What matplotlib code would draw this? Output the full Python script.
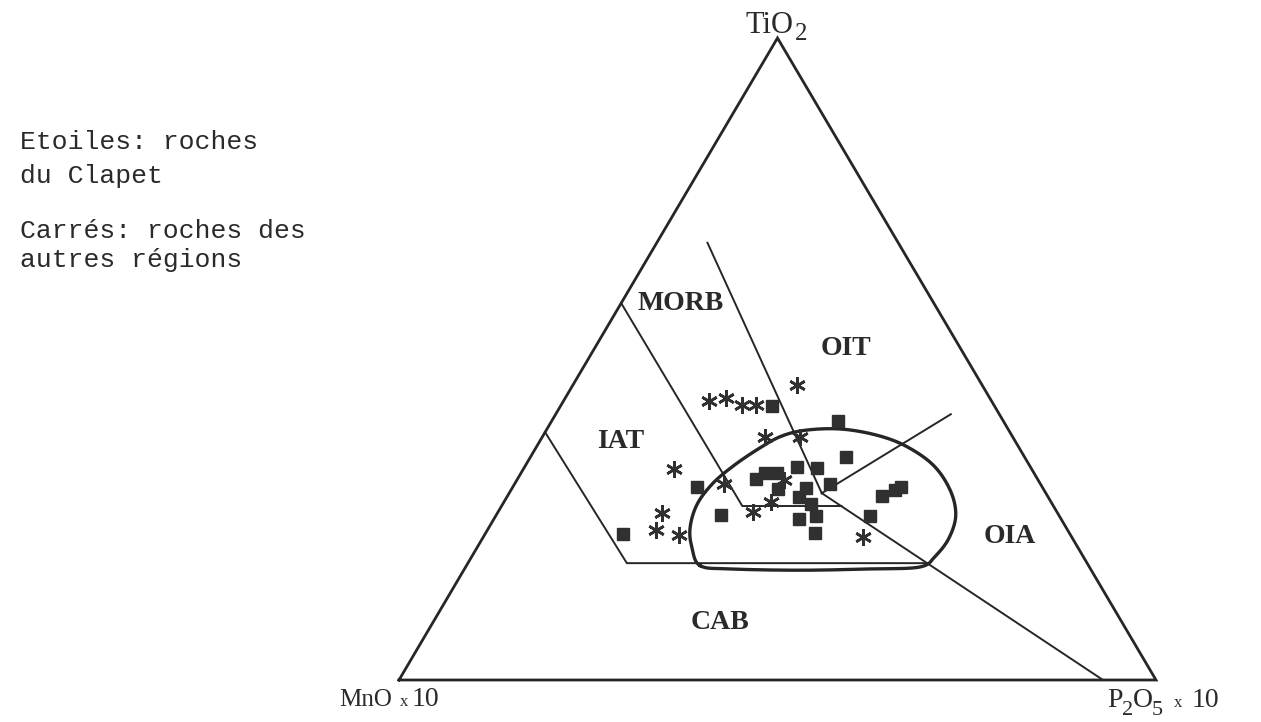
import matplotlib
matplotlib.use("Agg")
import matplotlib.pyplot as plt
import numpy as np

# compositions in % (TiO2, P2O5x10, MnOx10)
sq_tio2 = [22.7, 30.1, 25.7, 42.7, 31.3, 32.2, 32.2, 29.8, 33.2, 33.0, 29.9, 28.5,
           30.5, 34.7, 27.4, 25.5, 25.1, 22.9, 40.3, 28.7, 29.6, 30.1, 25.5]
sq_p2o5 = [18.2, 24.3, 29.7, 27.9, 31.5, 32.2, 33.8, 35.2, 36.0, 38.7, 38.8, 38.6,
           41.7, 41.7, 40.7, 42.3, 40.3, 43.5, 37.8, 49.5, 50.7, 51.3, 49.5]
sq_mno = [59.1, 45.6, 44.6, 29.4, 37.2, 35.6, 34.0, 35.0, 30.8, 28.3, 31.3, 32.9,
          27.8, 23.6, 31.9, 32.2, 34.6, 33.6, 21.9, 21.8, 19.7, 18.6, 25.0]

st_tio2 = [43.5, 43.9, 42.8, 42.8, 46.0, 37.9, 37.9, 32.9, 30.5, 26.0, 23.4, 22.6, 26.2, 27.7, 31.2, 22.3]
st_p2o5 = [19.2, 21.2, 23.9, 25.7, 29.6, 29.4, 34.0, 19.9, 27.7, 21.7, 22.3, 25.7, 33.7, 35.3, 35.2, 50.2]
st_mno = [37.3, 34.9, 33.3, 31.5, 24.4, 32.7, 28.1, 47.2, 41.8, 52.3, 54.3, 51.7, 40.1, 37.0, 33.6, 27.5]

# field boundaries (TiO2, P2O5 ; MnO = 100 - both)
morb_iat_tio2 = [58.7, 27.1, 27.1]
morb_iat_p2o5 = [0.0, 31.8, 44.9]
morb_oit_tio2 = [68.1, 29.1]
morb_oit_p2o5 = [6.7, 41.3]
oit_oia_tio2 = [29.1, 41.4]
oit_oia_p2o5 = [41.3, 52.2]
oia_cab_tio2 = [29.1, 0.0]
oia_cab_p2o5 = [41.3, 93.0]
cab_tio2 = [38.6, 18.2, 18.2]
cab_p2o5 = [0.0, 21.0, 60.7]

# hand drawn loop around the "other regions" samples
loop_tio2 = [17.8, 20.6, 23.7, 27.3, 30.5, 33.2, 35.8, 37.9, 38.9, 39.1, 38.2,
             36.5, 33.5, 29.6, 25.7, 22.1, 19.3, 17.6, 17.3, 17.1, 17.3]
loop_p2o5 = [30.9, 28.4, 26.6, 25.7, 26.1, 27.4, 29.3, 31.4, 34.2, 38.7, 43.8,
             48.6, 53.8, 58.0, 60.7, 61.6, 61.2, 60.0, 53.6, 44.4, 35.1]

fields = ["MORB", "OIT", "IAT", "OIA", "CAB"]
field_tio2 = [58.7, 51.6, 37.2, 22.3, 8.9]
field_p2o5 = [7.8, 33.2, 10.7, 69.6, 38.0]

legend_lines = ["Etoiles: roches", "du Clapet", "Carrés: roches des", "autres régions"]


def tern(tio2, p2o5, mno=None):
    t = np.asarray(tio2, float)
    p = np.asarray(p2o5, float)
    m = 100.0 - t - p if mno is None else np.asarray(mno, float)
    s = t + p + m
    return (p + t / 2.0) / s, t / s


def closed_smooth(x, y, n=20):
    # closed catmull-rom through the traced points
    pts = np.column_stack([x, y])
    N = len(pts)
    s = np.linspace(0, 1, n, endpoint=False)[:, None]
    out = []
    for i in range(N):
        p0, p1, p2, p3 = pts[(i - 1) % N], pts[i], pts[(i + 1) % N], pts[(i + 2) % N]
        out.append(0.5 * (2 * p1 + (-p0 + p2) * s + (2 * p0 - 5 * p1 + 4 * p2 - p3) * s ** 2
                          + (-p0 + 3 * p1 - 3 * p2 + p3) * s ** 3))
    out = np.vstack(out + [out[0][:1]])
    return out[:, 0], out[:, 1]


ink = "#262626"
txt = "#2a2a2a"
serif = "Liberation Serif"
W, H = 1261, 722

fig = plt.figure(figsize=(12.61, 7.22), dpi=100)
ax = fig.add_axes([399 / W, 42 / H, 757 / W, 642 / H])
ax.set_xlim(0, 1)
ax.set_ylim(0, 1)
ax.axis("off")

# triangle
tx, ty = tern([0, 0, 100, 0], [0, 100, 0, 0])
ax.plot(tx, ty, color=ink, lw=2.0, clip_on=False, solid_joinstyle="miter")

for bt, bp in [(morb_iat_tio2, morb_iat_p2o5), (morb_oit_tio2, morb_oit_p2o5),
               (oit_oia_tio2, oit_oia_p2o5), (oia_cab_tio2, oia_cab_p2o5),
               (cab_tio2, cab_p2o5)]:
    bx, by = tern(bt, bp)
    ax.plot(bx, by, color=ink, lw=1.4, clip_on=False)

lx, ly = tern(loop_tio2, loop_p2o5)
cx, cy = closed_smooth(lx, ly)
ax.plot(cx, cy, color=ink, lw=2.4)

x, y = tern(sq_tio2, sq_p2o5, sq_mno)
ax.plot(x, y, ls="none", marker="s", ms=8, color="#303030", mec="#303030")
x, y = tern(st_tio2, st_p2o5, st_mno)
ax.plot(x, y, ls="none", marker=(6, 2, 0), ms=12, mew=1.9, color="#303030")

fx, fy = tern(field_tio2, field_p2o5)
for name, xx, yy in zip(fields, fx, fy):
    ax.text(xx, yy, name, ha="center", va="center", fontsize=20, fontweight="bold",
            family=serif, color=txt)


def put(px, py, s, size, **kw):
    fig.text(px / W, 1 - py / H, s, va="baseline", fontsize=size, family=serif,
             color=txt, **kw)


# apex labels, pieces placed one by one (large subscripts as in the print)
put(745, 33, "TiO", 22, ha="left")
put(795, 40, "2", 18, ha="left")

put(392, 706, "MnO", 18, ha="right")
put(400, 706, "x", 12, ha="left")
put(412, 706, "10", 20, ha="left")

put(1107, 707, "P", 20, ha="left")
put(1122, 715, "2", 16, ha="left")
put(1133, 707, "O", 20, ha="left")
put(1152, 715, "5", 16, ha="left")
put(1174, 707, "x", 12, ha="left")
put(1192, 707, "10", 20, ha="left")

# legend text
for s, b in zip(legend_lines, [149, 183, 238, 267]):
    fig.text(20 / W, 1 - b / H, s, ha="left", va="baseline", fontsize=19,
             family="Liberation Mono", color=txt)

fig.savefig("out.png", dpi=100)
